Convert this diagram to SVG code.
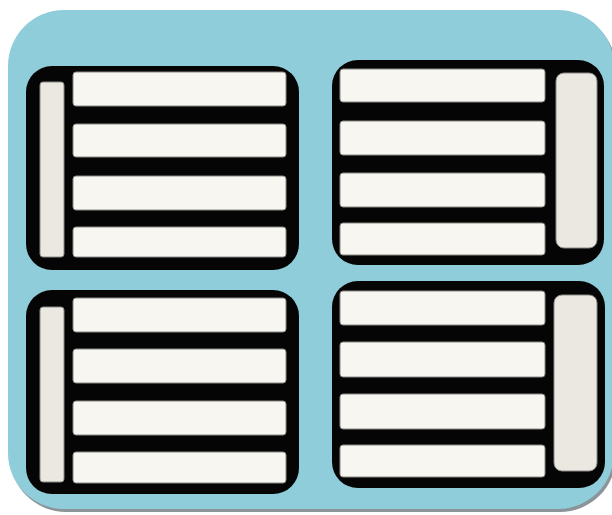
<svg xmlns="http://www.w3.org/2000/svg" width="612" height="515" viewBox="0 0 612 515">
<defs>
<style>
.frame{fill:#050505}
.row{fill:#F7F6F1;stroke:#8a8a86;stroke-width:1}
.side{fill:#EBE8E1;stroke:#8a8a86;stroke-width:1}
</style>
</defs>
<rect x="0" y="0" width="612" height="515" fill="#ffffff"/>
<rect x="10" y="13" width="606" height="499" rx="56" ry="56" fill="#8a9499"/>
<rect x="8" y="10" width="606" height="499" rx="56" ry="56" fill="#90CDDB"/>
<g id="panel-tl">
<rect class="frame" x="26" y="66" width="273" height="204" rx="26"/>
<rect class="side" x="40" y="82" width="24" height="175" rx="3"/>
<rect class="row" x="73" y="72" width="213" height="34" rx="3"/>
<rect class="row" x="73" y="124" width="213" height="33" rx="3"/>
<rect class="row" x="73" y="176" width="213" height="34" rx="3"/>
<rect class="row" x="73" y="227" width="213" height="30" rx="3"/>
</g>
<g id="panel-tr">
<rect class="frame" x="332" y="60" width="272" height="205" rx="26"/>
<rect class="row" x="340" y="69" width="205" height="33" rx="3"/>
<rect class="row" x="340" y="121" width="205" height="34" rx="3"/>
<rect class="row" x="340" y="173" width="205" height="34" rx="3"/>
<rect class="row" x="340" y="223" width="205" height="32" rx="3"/>
<rect class="side" x="556" y="73" width="41" height="175" rx="8"/>
</g>
<g id="panel-bl">
<rect class="frame" x="26" y="290" width="273" height="204" rx="26"/>
<rect class="side" x="40" y="307" width="24" height="175" rx="3"/>
<rect class="row" x="73" y="298" width="213" height="34" rx="3"/>
<rect class="row" x="73" y="349" width="213" height="34" rx="3"/>
<rect class="row" x="73" y="401" width="213" height="34" rx="3"/>
<rect class="row" x="73" y="452" width="213" height="31" rx="3"/>
</g>
<g id="panel-br">
<rect class="frame" x="332" y="281" width="273" height="207" rx="26"/>
<rect class="row" x="340" y="291" width="205" height="34" rx="3"/>
<rect class="row" x="340" y="342" width="205" height="35" rx="3"/>
<rect class="row" x="340" y="394" width="205" height="35" rx="3"/>
<rect class="row" x="340" y="445" width="205" height="32" rx="3"/>
<rect class="side" x="554" y="295" width="43" height="176" rx="8"/>
</g>
<g id="connectors"></g>
</svg>
